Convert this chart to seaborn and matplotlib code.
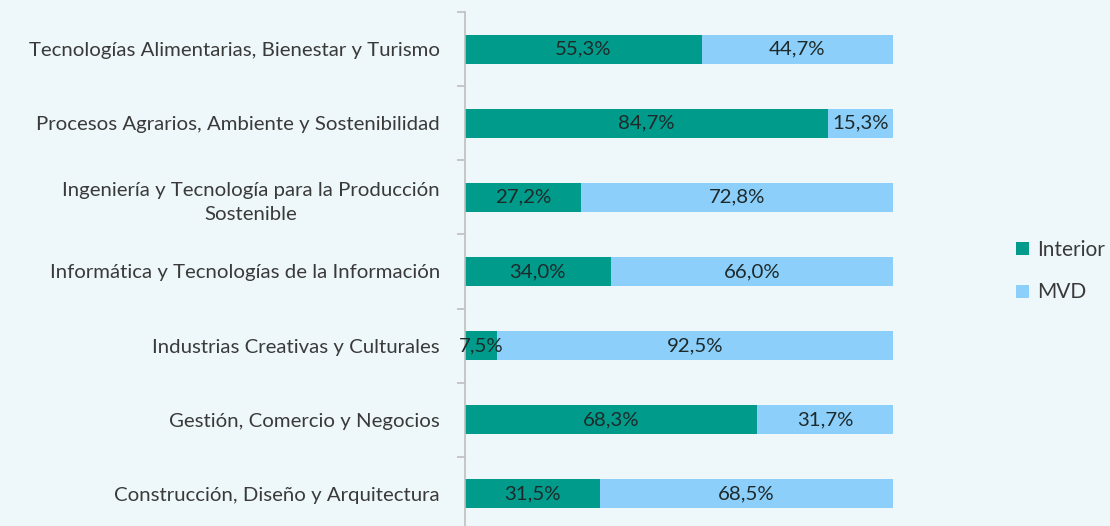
import matplotlib
matplotlib.use("Agg")
import matplotlib.pyplot as plt
import seaborn as sns
import pandas as pd
import numpy as np

categories = [
    "Tecnologías Alimentarias, Bienestar y Turismo",
    "Procesos Agrarios, Ambiente y Sostenibilidad",
    "Ingeniería y Tecnología para la Producción\nSostenible",
    "Informática y Tecnologías de la Información",
    "Industrias Creativas y Culturales",
    "Gestión, Comercio y Negocios",
    "Construcción, Diseño y Arquitectura",
]
interior = [55.3, 84.7, 27.2, 34.0, 7.5, 68.3, 31.5]
mvd = [44.7, 15.3, 72.8, 66.0, 92.5, 31.7, 68.5]

BG = "#EEF7FA"
TEAL = "#009B8B"
LIGHT = "#8CCFFB"
TXT = "#3A3A3A"
VTXT = "#1E2A2A"
FS = 14.7

sns.set_theme(style="white")
plt.rcParams["font.family"] = ["Lato", "DejaVu Sans"]

df = pd.DataFrame({"cat": categories, "Interior": interior, "MVD": mvd})
df["total"] = df["Interior"] + df["MVD"]

fig = plt.figure(figsize=(11.10, 5.26), dpi=100, facecolor=BG)
ax = fig.add_axes([465 / 1110, 1 - 531 / 526, (893 - 465) / 1110, 519 / 526])
ax.set_facecolor(BG)

sns.barplot(data=df, y="cat", x="total", color=LIGHT, orient="h", width=0.39,
            saturation=1, ax=ax, label="MVD", linewidth=0)
sns.barplot(data=df, y="cat", x="Interior", color=TEAL, orient="h", width=0.39,
            saturation=1, ax=ax, label="Interior", linewidth=0)
handles, labels = ax.get_legend_handles_labels()
if ax.get_legend() is not None:
    ax.get_legend().remove()

n = len(categories)
for i in range(n):
    ax.text(interior[i] / 2, i, f"{interior[i]:.1f}%".replace(".", ","),
            ha="center", va="center", fontsize=FS, color=VTXT)
    ax.text(interior[i] + mvd[i] / 2, i, f"{mvd[i]:.1f}%".replace(".", ","),
            ha="center", va="center", fontsize=FS, color=VTXT)

ax.set_xlim(0, 100)
ax.set_ylim(n - 0.5, -0.5)
ax.set_xlabel("")
ax.set_ylabel("")
ax.set_xticks([])
for s in ["top", "right", "bottom"]:
    ax.spines[s].set_visible(False)
ax.spines["left"].set_color("#BFBFBF")
ax.spines["left"].set_linewidth(1.2)

ax.set_yticks(range(n))
ax.set_yticklabels(categories, fontsize=FS, color=TXT)
for lab in ax.get_yticklabels():
    lab.set_multialignment("center")
    lab.set_linespacing(1.5)
ax.tick_params(axis="y", which="major", left=False, length=0, pad=18)
ax.set_yticks(np.arange(-0.5, n, 1.0), minor=True)
ax.tick_params(axis="y", which="minor", left=True, length=6, color="#BFBFBF",
               width=1.2, direction="out")

order = [labels.index("Interior"), labels.index("MVD")]
leg = fig.legend([handles[k] for k in order], [labels[k] for k in order],
                 loc="center left", bbox_to_anchor=(1016 / 1110, 1 - 271 / 526),
                 frameon=False, fontsize=15, handlelength=0.6, handleheight=0.6,
                 handletextpad=0.4, labelspacing=1.1, borderaxespad=0, borderpad=0)
for t in leg.get_texts():
    t.set_color(TXT)

fig.savefig("out.png", dpi=100, facecolor=BG)
